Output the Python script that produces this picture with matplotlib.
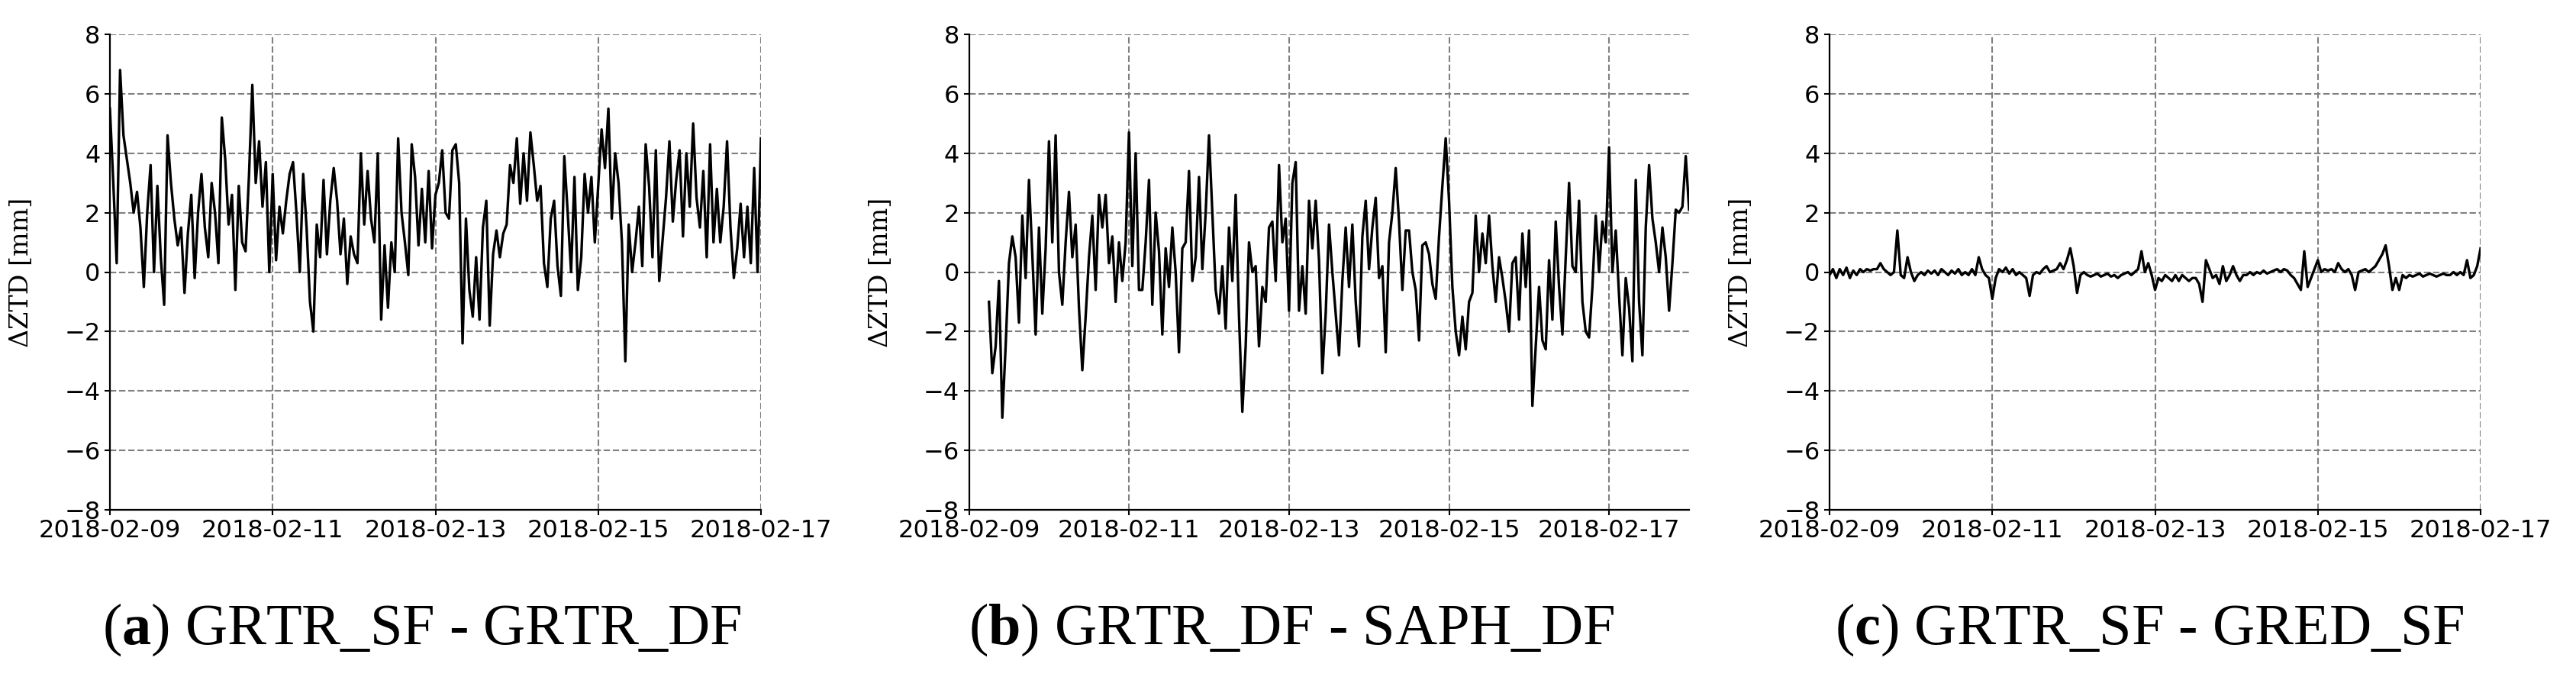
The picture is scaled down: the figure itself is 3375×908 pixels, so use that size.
"""
ZTD differences between station solutions, three panels side by side.
"""
import numpy as np
import pandas as pd
import matplotlib
matplotlib.use('Agg')
import matplotlib.pyplot as plt
import matplotlib.dates as mdates

# hourly values [mm]
dztd_grtr_sf_df = [
    5.5, 3.0, 0.3, 6.8, 4.6, 3.8, 3.0, 2.0, 2.7, 1.5,
    -0.5, 2.0, 3.6, 0.0, 2.9, 0.5, -1.1, 4.6, 3.0, 1.8,
    0.9, 1.5, -0.7, 1.3, 2.6, -0.2, 2.0, 3.3, 1.5, 0.5,
    3.0, 2.0, 0.3, 5.2, 3.8, 1.6, 2.6, -0.6, 2.9, 1.0,
    0.7, 3.2, 6.3, 3.0, 4.4, 2.2, 3.7, 0.0, 3.3, 0.4,
    2.2, 1.3, 2.4, 3.3, 3.7, 2.0, 0.0, 3.3, 1.5, -1.0,
    -2.0, 1.6, 0.5, 3.1, 0.6, 2.4, 3.5, 2.4, 0.6, 1.8,
    -0.4, 1.2, 0.6, 0.3, 4.0, 1.6, 3.4, 1.8, 1.0, 4.0,
    -1.6, 0.9, -1.2, 1.0, 0.0, 4.5, 2.0, 1.0, -0.1, 4.3,
    3.2, 0.9, 2.8, 1.0, 3.4, 0.8, 2.6, 3.0, 4.1, 2.0,
    1.8, 4.1, 4.3, 3.0, -2.4, 1.8, -0.6, -1.5, 0.5, -1.6,
    1.5, 2.4, -1.8, 0.6, 1.4, 0.5, 1.3, 1.6, 3.6, 3.0,
    4.5, 2.3, 4.0, 2.4, 4.7, 3.6, 2.4, 2.9, 0.3, -0.5,
    1.8, 2.4, 0.2, -0.8, 3.9, 2.0, 0.0, 3.2, -0.6, 0.5,
    3.3, 2.0, 3.2, 1.0, 2.9, 4.8, 3.5, 5.5, 1.8, 4.0,
    3.0, 1.0, -3.0, 1.6, 0.0, 1.0, 2.2, 0.2, 4.3, 2.9,
    0.5, 4.1, -0.3, 1.1, 2.5, 4.4, 1.7, 3.1, 4.1, 1.2,
    4.0, 2.2, 5.0, 2.5, 1.5, 3.4, 0.5, 4.3, 1.0, 2.8,
    1.0, 2.2, 4.4, 1.5, -0.2, 0.8, 2.3, 0.5, 2.2, 0.3,
    3.5, 0.0, 4.5,
]

# starts at 06:00 on the first day
dztd_grtr_saph_df = [
    -1.0, -3.4, -2.5, -0.3, -4.9, -2.5, 0.3, 1.2, 0.5, -1.7,
    1.9, -0.2, 3.1, 0.6, -2.1, 1.5, -1.4, 0.8, 4.4, 1.0,
    4.6, 0.0, -1.1, 1.0, 2.7, 0.5, 1.6, -1.2, -3.3, -1.5,
    0.5, 1.9, -0.6, 2.6, 1.5, 2.6, 0.3, 1.2, -1.0, 1.0,
    -0.3, 1.0, 4.7, 0.2, 4.0, -0.6, -0.6, 1.0, 3.1, -1.1,
    2.0, 0.7, -2.1, 0.8, -0.5, 1.5, 0.0, -2.7, 0.8, 1.0,
    3.4, -0.3, 0.5, 3.2, 0.1, 2.0, 4.6, 2.0, -0.6, -1.4,
    0.2, -1.9, 1.5, -0.3, 2.6, -1.5, -4.7, -2.5, 1.0, 0.0,
    0.2, -2.5, -0.5, -1.0, 1.5, 1.7, -0.3, 3.6, 1.0, 1.8,
    -1.3, 3.0, 3.7, -1.3, 0.2, -1.4, 2.4, 0.8, 2.4, 0.4,
    -3.4, -1.4, 1.6, 0.0, -1.4, -2.8, -0.3, 1.5, -0.5, 1.6,
    -1.0, -2.5, 1.2, 2.4, 0.1, 1.5, 2.5, -0.2, 0.2, -2.7,
    1.0, 2.0, 3.5, 1.7, -0.6, 1.4, 1.4, 0.0, -0.6, -2.3,
    0.9, 1.0, 0.6, -0.4, -0.9, 1.2, 2.9, 4.5, 2.4, -0.5,
    -2.0, -2.8, -1.5, -2.6, -1.0, -0.7, 1.9, 0.0, 1.3, 0.3,
    1.9, 0.2, -1.0, 0.5, -0.2, -1.0, -2.0, 0.3, 0.5, -1.6,
    1.3, -0.5, 1.4, -4.5, -2.5, -0.5, -2.3, -2.6, 0.4, -1.6,
    1.7, -0.5, -2.1, 0.5, 3.0, 0.2, 0.0, 2.4, -1.0, -2.0,
    -2.2, -0.5, 1.9, 0.0, 1.7, 1.0, 4.2, 0.0, 1.4, -0.8,
    -2.8, -0.2, -1.2, -3.0, 3.1, -1.0, -2.8, 1.5, 3.6, 1.8,
    1.0, 0.0, 1.5, 0.5, -1.3, 0.3, 2.1, 2.0, 2.2, 3.9,
    2.1,
]

dztd_grtr_gred_sf = [
    -0.1, 0.1, -0.2, 0.1, -0.1, 0.15, -0.2, 0.05, -0.1, 0.1,
    0.0, 0.1, 0.05, 0.1, 0.1, 0.3, 0.1, 0.0, -0.1, 0.0,
    1.4, -0.1, -0.2, 0.5, 0.0, -0.3, -0.1, 0.0, -0.1, 0.05,
    -0.05, 0.05, -0.1, 0.1, 0.0, -0.1, 0.05, -0.05, 0.1, -0.1,
    0.0, -0.1, 0.1, -0.1, 0.5, 0.1, -0.1, -0.2, -0.9, -0.2,
    0.1, 0.0, 0.15, -0.05, 0.1, -0.1, 0.0, -0.1, -0.2, -0.8,
    -0.1, 0.0, -0.05, 0.1, 0.2, 0.0, 0.05, 0.1, 0.3, 0.1,
    0.4, 0.8, 0.2, -0.7, -0.1, 0.0, -0.1, -0.15, -0.1, -0.05,
    -0.15, -0.1, -0.05, -0.15, -0.1, -0.2, -0.1, -0.05, 0.0, -0.1,
    0.0, 0.1, 0.7, 0.0, 0.3, -0.1, -0.6, -0.2, -0.3, -0.1,
    -0.2, -0.3, -0.1, -0.3, -0.1, -0.2, -0.3, -0.2, -0.2, -0.4,
    -1.0, 0.4, 0.1, -0.2, -0.1, -0.4, 0.2, -0.3, -0.1, 0.2,
    -0.1, -0.3, -0.1, -0.1, 0.0, -0.1, 0.0, -0.05, 0.05, -0.05,
    0.0, 0.05, 0.1, 0.0, 0.1, 0.05, -0.1, -0.2, -0.4, -0.6,
    0.7, -0.5, -0.2, 0.1, 0.4, 0.0, 0.1, 0.05, 0.1, 0.0,
    0.3, 0.1, 0.0, 0.1, -0.1, -0.6, 0.0, 0.05, 0.1, 0.0,
    0.1, 0.2, 0.4, 0.6, 0.9, 0.2, -0.6, -0.2, -0.6, -0.1,
    -0.2, -0.1, -0.15, -0.1, -0.05, -0.15, -0.1, -0.05, -0.1, -0.15,
    -0.1, -0.05, -0.1, -0.1, 0.0, -0.1, 0.0, -0.1, 0.4, -0.2,
    -0.1, 0.2, 0.8,
]

captions = [r'($\mathbf{a}$) GRTR_SF - GRTR_DF',
            r'($\mathbf{b}$) GRTR_DF - SAPH_DF',
            r'($\mathbf{c}$) GRTR_SF - GRED_SF']

t_a = pd.date_range('2018-02-09 00:00', periods=len(dztd_grtr_sf_df), freq='h')
t_b = pd.date_range('2018-02-09 06:00', periods=len(dztd_grtr_saph_df), freq='h')
t_c = pd.date_range('2018-02-09 00:00', periods=len(dztd_grtr_gred_sf), freq='h')

plt.rcParams['mathtext.fontset'] = 'custom'
plt.rcParams['mathtext.rm'] = 'Liberation Serif'
plt.rcParams['mathtext.bf'] = 'Liberation Serif:bold'

W, H = 3375, 908
fig = plt.figure(figsize=(W / 100, H / 100), dpi=100)

# axes boxes in pixels: left, right
boxes = [(144, 997), (1269.5, 2213), (2397, 3250)]
top, bottom = 45, 668
xlims = [('2018-02-09', '2018-02-17'), ('2018-02-09', '2018-02-18'), ('2018-02-09', '2018-02-17')]
series = [(t_a, dztd_grtr_sf_df), (t_b, dztd_grtr_saph_df), (t_c, dztd_grtr_gred_sf)]
caption_x = [553, 1692, 2816]

for i, ((l, r), (t, v)) in enumerate(zip(boxes, series)):
    ax = fig.add_axes([l / W, 1 - bottom / H, (r - l) / W, (bottom - top) / H])
    ax.plot(t, v, color='black', linewidth=2.4, zorder=3)
    ax.set_xlim(pd.Timestamp(xlims[i][0]), pd.Timestamp(xlims[i][1]))
    ax.set_ylim(-8, 8)
    ax.set_yticks(np.arange(-8, 9, 2))
    ax.xaxis.set_major_locator(mdates.DayLocator(bymonthday=[9, 11, 13, 15, 17]))
    ax.xaxis.set_major_formatter(mdates.DateFormatter('%Y-%m-%d'))
    ax.grid(True, color='#808080', linewidth=1.5, linestyle=(0, (4, 1.75)))
    ax.set_axisbelow(True)
    for s in ['top', 'right']:
        ax.spines[s].set_visible(False)
    for s in ['left', 'bottom']:
        ax.spines[s].set_linewidth(1.6)
    ax.tick_params(length=5, width=1.5, labelsize=23, pad=4)
    for lab in ax.get_xticklabels() + ax.get_yticklabels():
        lab.set_fontfamily('DejaVu Sans')
    ax.set_ylabel('ΔZTD [mm]', fontsize=24, fontfamily='DejaVu Serif')
    ax.yaxis.set_label_coords(-100 / (r - l), 0.5)
    fig.text(caption_x[i] / W, 1 - 844 / H, captions[i], ha='center', va='baseline',
             fontsize=55, fontfamily='Liberation Serif')

fig.savefig('out.png', dpi=100)
